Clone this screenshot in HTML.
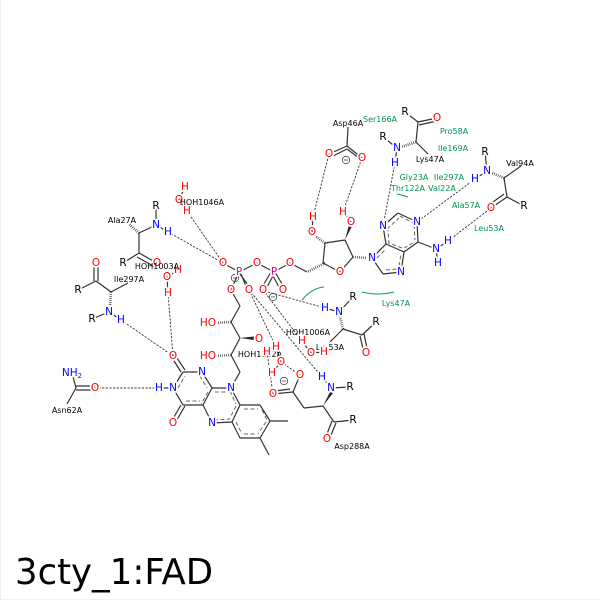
<!DOCTYPE html>
<html><head><meta charset="utf-8"><style>
html,body{margin:0;padding:0;background:#fff}
svg{display:block}
text{font-family:"DejaVu Sans",sans-serif;text-anchor:middle}
.a text{font-size:10.5px;paint-order:stroke;stroke:#fff;stroke-width:3.5px;stroke-linejoin:round}
.l text{font-size:8px;fill:#000}
.g text{font-size:8px;fill:#00934f}
.r{fill:#f00}.b{fill:#00f}.p{fill:#e0007f}.k{fill:#000}
.bond line{stroke:#333;stroke-width:1.2}
.hb line{stroke:#333;stroke-width:.9;stroke-dasharray:2.2 1.4}
.in line{stroke:#666;stroke-width:1;stroke-dasharray:4 2.5}
.hash line{stroke:#333;stroke-width:2.6;stroke-dasharray:.7 1.3}
</style></head><body>
<svg width="600" height="600" viewBox="0 0 600 600" xmlns="http://www.w3.org/2000/svg">
<rect width="600" height="600" fill="#fff"/>
<path d="M.5 0V599.5H600" fill="none" stroke="#f0f0f0"/>
<g fill="none" stroke="#00a060" stroke-width="1">
<path d="M302 300Q312 288 324 287"/>
<path d="M362 292Q378 296 394 292"/>
<path d="M397 194Q402 195 408 197"/>
</g>
<g class="hb">
<line x1="121" y1="320" x2="173" y2="356"/>
<line x1="168" y1="293" x2="173" y2="356"/>
<line x1="168" y1="232" x2="223" y2="263"/>
<line x1="187" y1="211" x2="223" y2="263"/>
<line x1="95" y1="388" x2="159" y2="388"/>
<line x1="249" y1="290" x2="276" y2="347"/>
<line x1="249" y1="290" x2="322" y2="377"/>
<line x1="263" y1="290" x2="311" y2="353"/>
<line x1="268" y1="292" x2="325" y2="308"/>
<line x1="267" y1="352" x2="273" y2="394"/>
<line x1="281" y1="362" x2="300" y2="375"/>
<line x1="313" y1="217" x2="329" y2="154"/>
<line x1="343" y1="212" x2="362" y2="158"/>
<line x1="395" y1="163" x2="383" y2="226"/>
<line x1="475" y1="179" x2="417" y2="222"/>
<line x1="448" y1="241" x2="491" y2="208"/>
</g>
<g class="bond">
<!-- Ala27 -->
<line x1="156" y1="206" x2="156" y2="225"/><line x1="156" y1="225" x2="139" y2="233"/><line x1="139" y1="233" x2="139" y2="253"/><line x1="139" y1="253" x2="123" y2="263"/><line x1="139" y1="253" x2="157" y2="263"/><line x1="137" y1="257" x2="155" y2="267"/><line x1="156" y1="225" x2="168" y2="232"/>
<!-- Ile297 -->
<line x1="94" y1="263" x2="94" y2="281"/><line x1="98" y1="263" x2="98" y2="281"/><line x1="96" y1="281" x2="78" y2="290"/><line x1="96" y1="281" x2="111" y2="292"/><line x1="111" y1="292" x2="128" y2="283"/><line x1="92" y1="319" x2="109" y2="312"/><line x1="109" y1="312" x2="121" y2="320"/>
<!-- water -->
<line x1="179" y1="200" x2="185" y2="187"/><line x1="179" y1="200" x2="187" y2="211"/><line x1="167" y1="277" x2="178" y2="270"/><line x1="167" y1="277" x2="168" y2="293"/>
<line x1="302" y1="341" x2="311" y2="353"/><line x1="311" y1="353" x2="324" y2="352"/><line x1="276" y1="347" x2="281" y2="362"/><line x1="281" y1="362" x2="272" y2="373"/>
<!-- phosphate chain -->
<line x1="223" y1="263" x2="239" y2="272"/><line x1="239" y1="272" x2="257" y2="263"/><line x1="257" y1="263" x2="274" y2="272"/><line x1="274" y1="272" x2="290" y2="263"/><line x1="290" y1="263" x2="307" y2="272"/>
<line x1="239" y1="272" x2="231" y2="290"/><line x1="237" y1="270" x2="251" y2="289"/><line x1="241" y1="274" x2="248" y2="291"/>
<line x1="271" y1="272" x2="261" y2="289"/><line x1="274" y1="274" x2="265" y2="291"/><line x1="275" y1="272" x2="285" y2="289"/><line x1="272" y1="274" x2="281" y2="291"/>
<line x1="231" y1="290" x2="240" y2="306"/><line x1="240" y1="306" x2="231" y2="322"/><line x1="231" y1="322" x2="240" y2="338"/><line x1="240" y1="338" x2="231" y2="355"/><line x1="231" y1="355" x2="240" y2="372"/><line x1="240" y1="372" x2="231" y2="388"/>
<!-- ribose -->
<line x1="323" y1="263" x2="340" y2="272"/><line x1="340" y1="272" x2="353" y2="257"/><line x1="353" y1="257" x2="345" y2="240"/><line x1="345" y1="240" x2="325" y2="243"/><line x1="325" y1="243" x2="323" y2="263"/>
<line x1="312" y1="232" x2="313" y2="217"/><line x1="351" y1="222" x2="343" y2="212"/>
<!-- Asp46 -->
<line x1="348" y1="127" x2="347" y2="146"/><line x1="347" y1="146" x2="329" y2="154"/><line x1="347" y1="149" x2="333" y2="156"/><line x1="347" y1="146" x2="362" y2="158"/><line x1="347" y1="149" x2="359" y2="158"/>
<!-- adenine -->
<line x1="372" y1="258" x2="386" y2="244"/><line x1="386" y1="244" x2="383" y2="226"/><line x1="383" y1="226" x2="398" y2="213"/><line x1="398" y1="213" x2="417" y2="222"/><line x1="417" y1="222" x2="418" y2="242"/><line x1="418" y1="242" x2="404" y2="252"/><line x1="404" y1="252" x2="386" y2="244"/><line x1="404" y1="252" x2="401" y2="272"/><line x1="401" y1="272" x2="383" y2="274"/><line x1="383" y1="274" x2="372" y2="258"/><line x1="418" y1="242" x2="436" y2="249"/><line x1="436" y1="249" x2="438" y2="263"/><line x1="436" y1="249" x2="448" y2="241"/>
<!-- Ser166/Lys47 -->
<line x1="405" y1="112" x2="418" y2="122"/><line x1="418" y1="122" x2="437" y2="118"/><line x1="419" y1="125" x2="437" y2="121"/><line x1="418" y1="122" x2="416" y2="142"/><line x1="416" y1="142" x2="428" y2="154"/><line x1="383" y1="137" x2="397" y2="148"/><line x1="397" y1="148" x2="395" y2="163"/>
<!-- Val94 -->
<line x1="485" y1="152" x2="487" y2="171"/><line x1="487" y1="171" x2="475" y2="179"/><line x1="504" y1="178" x2="521" y2="166"/><line x1="504" y1="178" x2="507" y2="197"/><line x1="507" y1="197" x2="524" y2="206"/><line x1="507" y1="197" x2="491" y2="208"/><line x1="504" y1="194" x2="489" y2="205"/>
<!-- Lys53 -->
<line x1="325" y1="308" x2="339" y2="312"/><line x1="339" y1="312" x2="353" y2="297"/><line x1="343" y1="329" x2="362" y2="335"/><line x1="362" y1="335" x2="376" y2="322"/><line x1="360" y1="336" x2="364" y2="353"/><line x1="364" y1="334" x2="368" y2="353"/><line x1="343" y1="329" x2="330" y2="342"/>
<!-- Asp288 -->
<line x1="273" y1="394" x2="293" y2="392"/><line x1="275" y1="391" x2="290" y2="389"/><line x1="293" y1="392" x2="300" y2="375"/><line x1="293" y1="392" x2="304" y2="408"/><line x1="304" y1="408" x2="323" y2="406"/><line x1="323" y1="406" x2="334" y2="422"/><line x1="334" y1="422" x2="353" y2="420"/><line x1="332" y1="421" x2="325" y2="439"/><line x1="336" y1="423" x2="329" y2="440"/><line x1="331" y1="388" x2="322" y2="377"/><line x1="331" y1="388" x2="350" y2="387"/>
<!-- Asn62 -->
<line x1="72" y1="373" x2="76" y2="388"/><line x1="76" y1="386" x2="95" y2="386"/><line x1="76" y1="390" x2="95" y2="390"/><line x1="76" y1="388" x2="67" y2="404"/>
<!-- flavin -->
<line x1="159" y1="388" x2="173" y2="388"/><line x1="173" y1="388" x2="183" y2="372"/><line x1="183" y1="372" x2="202" y2="372"/><line x1="202" y1="372" x2="212" y2="388"/><line x1="212" y1="388" x2="203" y2="405"/><line x1="203" y1="405" x2="183" y2="405"/><line x1="183" y1="405" x2="173" y2="388"/>
<line x1="181" y1="372" x2="171" y2="356"/><line x1="185" y1="370" x2="175" y2="355"/><line x1="181" y1="405" x2="171" y2="422"/><line x1="185" y1="406" x2="175" y2="423"/>
<line x1="212" y1="388" x2="231" y2="388"/><line x1="231" y1="388" x2="240" y2="405"/><line x1="240" y1="405" x2="232" y2="422"/><line x1="232" y1="422" x2="212" y2="423"/><line x1="212" y1="423" x2="203" y2="405"/>
<line x1="240" y1="405" x2="260" y2="405"/><line x1="260" y1="405" x2="270" y2="421"/><line x1="270" y1="421" x2="260" y2="438"/><line x1="260" y1="438" x2="240" y2="438"/><line x1="240" y1="438" x2="232" y2="422"/><line x1="270" y1="421" x2="288" y2="421"/><line x1="260" y1="438" x2="269" y2="455"/>
</g>
<g class="in">
<line x1="178" y1="388" x2="185" y2="376"/><line x1="186" y1="401" x2="200" y2="401"/><line x1="200" y1="376" x2="207" y2="388"/>
<line x1="208" y1="392" x2="201" y2="404"/><line x1="215" y1="392" x2="229" y2="392"/><line x1="230" y1="391" x2="236" y2="404"/><line x1="236" y1="406" x2="230" y2="418"/><line x1="214" y1="420" x2="230" y2="419"/>
<line x1="244" y1="409" x2="258" y2="409"/><line x1="262" y1="410" x2="267" y2="420"/><line x1="266" y1="422" x2="258" y2="434"/><line x1="244" y1="434" x2="256" y2="434"/><line x1="236" y1="422" x2="242" y2="434"/>
<line x1="387" y1="229" x2="399" y2="218"/><line x1="400" y1="216" x2="413" y2="223"/><line x1="414" y1="225" x2="415" y2="240"/><line x1="413" y1="243" x2="404" y2="248"/><line x1="402" y1="248" x2="389" y2="243"/><line x1="389" y1="244" x2="388" y2="230"/>
<line x1="377" y1="258" x2="386" y2="249"/><line x1="386" y1="270" x2="398" y2="269"/><line x1="399" y1="266" x2="401" y2="254"/>
</g>
<g class="hash">
<line x1="139" y1="233" x2="129" y2="224"/>
<line x1="111" y1="292" x2="110" y2="307"/>
<line x1="231" y1="322" x2="215" y2="323"/>
<line x1="231" y1="355" x2="215" y2="356"/>
<line x1="325" y1="263" x2="307" y2="272"/>
<line x1="325" y1="243" x2="315" y2="236"/>
<line x1="353" y1="257" x2="367" y2="258"/>
<line x1="416" y1="142" x2="401" y2="147"/>
<line x1="504" y1="178" x2="492" y2="173"/>
<line x1="343" y1="329" x2="340" y2="317"/>
</g>
<path d="M240 338L254 336.5V340ZM345 240L349 225L352 226ZM323 406L330 392L333 393Z" fill="#222"/>
<g fill="none" stroke="#444" stroke-width=".8">
<circle cx="235" cy="278" r="3.7"/><line x1="233" y1="278" x2="237" y2="278"/>
<circle cx="273" cy="297" r="3.7"/><line x1="271" y1="297" x2="275" y2="297"/>
<circle cx="346" cy="160" r="3.7"/><line x1="344" y1="160" x2="348" y2="160"/>
<circle cx="284" cy="381" r="3.7"/><line x1="282" y1="381" x2="286" y2="381"/>
</g>
<g class="l">
<text x="122" y="223">Ala27A</text>
<text x="129" y="282">Ile297A</text>
<text x="348" y="126">Asp46A</text>
<text x="430" y="162">Lys47A</text>
<text x="520" y="166">Val94A</text>
<text x="308" y="335">HOH1006A</text>
<text x="330" y="350">Lys53A</text>
<text x="260" y="357">HOH1122A</text>
<text x="352" y="449">Asp288A</text>
<text x="67" y="413">Asn62A</text>
</g>
<g class="g">
<text x="380" y="122">Ser166A</text>
<text x="454" y="134">Pro58A</text>
<text x="453" y="151">Ile169A</text>
<text x="414" y="180">Gly23A</text>
<text x="449" y="180">Ile297A</text>
<text x="408" y="191">Thr122A</text>
<text x="442" y="191">Val22A</text>
<text x="466" y="208">Ala57A</text>
<text x="489" y="231">Leu53A</text>
<text x="396" y="306">Lys47A</text>
</g>
<g class="a">
<text class="r" x="185" y="190">H</text><text class="r" x="179" y="203">O</text><text class="r" x="187" y="214">H</text>
<text class="k" x="156" y="209">R</text><text class="b" x="156" y="228">N</text><text class="b" x="168" y="235">H</text>
<text class="r" x="157" y="266">O</text><text class="k" x="123" y="266">R</text>
<text class="r" x="178" y="273">H</text><text class="r" x="167" y="280">O</text><text class="r" x="168" y="296">H</text>
<text class="r" x="96" y="266">O</text><text class="k" x="78" y="293">R</text><text class="b" x="109" y="315">N</text><text class="k" x="92" y="322">R</text><text class="b" x="121" y="323">H</text>
<text class="r" x="223" y="266">O</text><text class="p" x="239" y="275">P</text><text class="r" x="257" y="266">O</text><text class="p" x="274" y="275">P</text><text class="r" x="290" y="266">O</text>
<text class="r" x="263" y="293">O</text><text class="r" x="283" y="293">O</text><text class="r" x="231" y="293">O</text><text class="r" x="249" y="293">O</text>
<text class="r" x="208" y="326">HO</text><text class="r" x="208" y="359">HO</text><text class="r" x="259" y="342">O</text>
<text class="r" x="340" y="275">O</text><text class="r" x="312" y="235">O</text><text class="r" x="313" y="220">H</text><text class="r" x="351" y="225">O</text><text class="r" x="343" y="215">H</text>
<text class="b" x="372" y="261">N</text><text class="b" x="401" y="275">N</text><text class="b" x="383" y="229">N</text><text class="b" x="417" y="225">N</text><text class="b" x="436" y="252">N</text><text class="b" x="438" y="266">H</text><text class="b" x="448" y="244">H</text>
<text class="r" x="329" y="157">O</text><text class="r" x="362" y="161">O</text>
<text class="k" x="405" y="115">R</text><text class="r" x="437" y="121">O</text><text class="b" x="397" y="151">N</text><text class="k" x="383" y="140">R</text><text class="b" x="395" y="166">H</text>
<text class="k" x="485" y="155">R</text><text class="b" x="487" y="174">N</text><text class="b" x="475" y="182">H</text><text class="r" x="491" y="211">O</text><text class="k" x="524" y="209">R</text>
<text class="b" x="325" y="311">H</text><text class="b" x="339" y="315">N</text><text class="k" x="353" y="300">R</text><text class="k" x="376" y="325">R</text><text class="r" x="366" y="356">O</text>
<text class="r" x="302" y="344">H</text><text class="r" x="311" y="356">O</text><text class="r" x="324" y="355">H</text>
<text class="r" x="267" y="355">H</text><text class="r" x="276" y="350">H</text><text class="r" x="281" y="365">O</text><text class="r" x="272" y="376">H</text>
<text class="r" x="300" y="378">O</text><text class="r" x="273" y="397">O</text>
<text class="b" x="322" y="380">H</text><text class="b" x="331" y="391">N</text><text class="k" x="350" y="390">R</text><text class="k" x="353" y="423">R</text><text class="r" x="327" y="442">O</text>
<text class="b" x="72" y="376">NH<tspan font-size="7" dy="2">2</tspan></text><text class="r" x="95" y="391">O</text>
<text class="b" x="159" y="391">H</text><text class="b" x="173" y="391">N</text><text class="b" x="202" y="375">N</text><text class="b" x="231" y="391">N</text><text class="b" x="212" y="426">N</text>
<text class="r" x="173" y="359">O</text><text class="r" x="173" y="426">O</text>
</g>
<g class="l">
<text x="202" y="205">HOH1046A</text>
<text x="157" y="269">HOH1003A</text>
</g>
<text x="15" y="584" style="font-size:35.5px;text-anchor:start;fill:#000">3cty_1:FAD</text>
</svg>
</body></html>
